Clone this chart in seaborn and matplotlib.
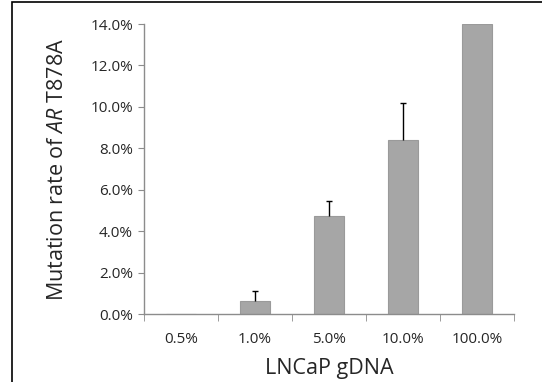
import matplotlib
matplotlib.use("Agg")
import matplotlib.pyplot as plt
import seaborn as sns
import pandas as pd
import numpy as np

# values
dna = ["0.5%", "1.0%", "5.0%", "10.0%", "100.0%"]
rate = [0.0, 0.64, 4.74, 8.40, 14.0]
err_up = [0.0, 0.45, 0.72, 1.80, 0.0]
yticks = [0, 2, 4, 6, 8, 10, 12, 14]

sns.set_style("white")
plt.rcParams["font.family"] = ["Open Sans", "DejaVu Sans"]
plt.rcParams["mathtext.fontset"] = "custom"
plt.rcParams["mathtext.rm"] = "Open Sans"
plt.rcParams["mathtext.it"] = "Open Sans:italic"

df = pd.DataFrame({"dna": dna, "rate": rate})

fig = plt.figure(figsize=(5.42, 3.82), dpi=100)
ax = fig.add_axes([0.266, 0.178, 0.682, 0.759])

sns.barplot(data=df, x="dna", y="rate", color="#a6a6a6", saturation=1,
            width=0.4, edgecolor="#9a9a9a", linewidth=0.8, ax=ax)

# upper-only error bars with a cap at the top end
for i, (r, e) in enumerate(zip(rate, err_up)):
    if e > 0:
        ax.vlines(i, r, r + e, color="black", linewidth=1)
        ax.hlines(r + e, i - 0.04, i + 0.04, color="black", linewidth=1)

ax.set_xlim(-0.5, len(dna) - 0.5)
ax.set_ylim(0, 14)
ax.set_yticks(yticks)
ax.set_yticklabels([f"{v:.1f}%" for v in yticks], fontsize=11, color="#262626")
ax.set_xticks(range(len(dna)))
ax.set_xticklabels(dna, fontsize=11, color="#262626")
ax.tick_params(axis="x", length=0, pad=13)
ax.set_xticks(np.arange(-0.5, len(dna)), minor=True)
ax.tick_params(axis="x", which="minor", length=5, color="#8c8c8c", direction="out", bottom=True)
ax.tick_params(axis="y", length=4, color="#8c8c8c", direction="out", left=True, pad=4)

for s in ["top", "right"]:
    ax.spines[s].set_visible(False)
for s in ["left", "bottom"]:
    ax.spines[s].set_color("#8c8c8c")
    ax.spines[s].set_linewidth(1)

ax.set_xlabel("LNCaP gDNA", fontsize=15.5, labelpad=8)
ax.set_ylabel(r"Mutation rate of $\mathit{AR}$ T878A", fontsize=15.5, labelpad=16)

# outer frame around the figure
frame = plt.Rectangle((12 / 542, -0.05), 1.0, 1.05 - 2 / 382, transform=fig.transFigure,
                      fill=False, edgecolor="black", linewidth=1.2)
fig.patches.append(frame)

fig.savefig("out.png", dpi=100)
